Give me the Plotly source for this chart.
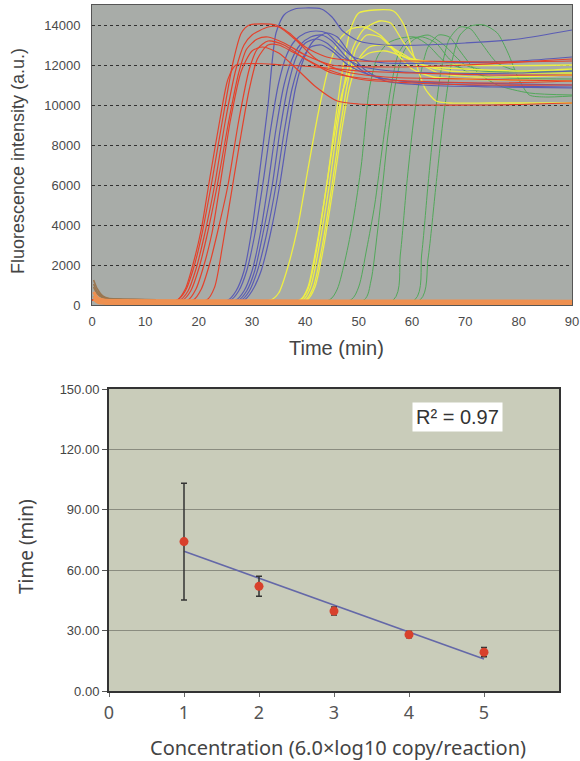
import numpy as np
import plotly.graph_objects as go

# ---------------- Top panel: amplification curves (time in min, fluorescence a.u.)
red_curves = [
    ([0, 16, 17.5, 19, 20.5, 22.5, 24.5, 26.5, 28, 29.5, 34.5, 37, 40, 44, 50, 60, 75, 90],
     [250, 250, 700, 1800, 3400, 6200, 9300, 12200, 13600, 14000, 14000, 13600, 12900, 12400, 12200, 12200, 12150, 12200]),
    ([0, 16.5, 18, 19.5, 21, 23, 25, 27, 28.5, 30, 33, 35, 38, 42, 47, 55, 70, 90],
     [250, 250, 700, 1800, 3400, 6000, 9200, 11800, 13000, 13500, 13900, 13900, 13300, 12300, 11700, 11400, 11300, 11200]),
    ([0, 17, 18.5, 20, 21.5, 23.5, 25.5, 27.5, 29, 31, 33, 36, 40, 45, 55, 70, 90],
     [250, 250, 700, 1800, 3400, 6000, 9000, 11600, 12800, 13300, 13400, 13100, 12500, 12000, 11900, 12000, 12300]),
    ([0, 16, 17.5, 19, 20.5, 22, 24, 25.5, 27, 36, 42, 50, 60, 75, 90],
     [250, 250, 800, 2100, 3800, 6200, 9300, 11300, 12000, 12000, 11900, 11700, 11600, 11500, 11500]),
    ([0, 21.5, 23, 24.5, 26.5, 28, 29.5, 31, 33, 35, 38, 43, 50, 60, 75, 90],
     [250, 250, 900, 3000, 6200, 8600, 10800, 12300, 13000, 13000, 12600, 11900, 11300, 11100, 11000, 11000]),
    ([0, 18, 19.5, 21, 22.5, 24, 26, 28, 30, 32, 35, 38, 42, 46, 50, 60, 75, 90],
     [250, 250, 800, 2000, 3600, 6000, 9300, 11700, 12700, 12900, 12600, 11900, 10900, 10200, 10050, 10000, 10000, 10100]),
    ([0, 19, 20.5, 22, 23.5, 25.5, 27.5, 29.5, 31, 33, 36, 40, 45, 52, 60, 75, 90],
     [250, 250, 800, 2000, 3600, 6000, 9200, 11800, 12800, 13200, 13000, 12300, 11600, 11300, 11200, 11100, 11200]),
]

blue_curves = [
    ([0, 25.5, 27, 28.5, 30, 31.5, 33, 34.5, 36, 38, 40, 43, 45, 47, 50, 55, 62, 70, 80, 90],
     [250, 250, 700, 1700, 3800, 6800, 10000, 13600, 14500, 14800, 14850, 14800, 14400, 13700, 13200, 13000, 13000, 13100, 13300, 13750]),
    ([0, 26, 27.5, 29, 30.5, 32, 33.5, 35, 36.5, 38, 40, 42, 44, 46, 49, 55, 65, 80, 90],
     [250, 250, 700, 1700, 3500, 6000, 8800, 11100, 12500, 13200, 13600, 13700, 13600, 13100, 12400, 12100, 12100, 12200, 12400]),
    ([0, 27, 28.5, 30, 31.5, 33, 34.5, 36, 37.5, 39, 41, 43, 45, 48, 52, 58, 70, 90],
     [250, 250, 700, 1700, 3500, 6000, 8800, 11000, 12300, 13000, 13400, 13500, 13200, 12300, 11500, 11200, 11000, 10900]),
    ([0, 27.5, 29, 30.5, 32, 33.8, 35.3, 36.8, 38.3, 40, 42, 44, 47, 51, 56, 65, 80, 90],
     [250, 250, 700, 1700, 3500, 6000, 8800, 11000, 12400, 13100, 13300, 13100, 12400, 11900, 11700, 11600, 11600, 11700]),
    ([0, 28, 29.5, 31, 32.7, 34.5, 36, 37.5, 39, 41, 43, 45, 48, 52, 58, 70, 90],
     [250, 250, 700, 1700, 3500, 6000, 8600, 10800, 12100, 12900, 13000, 12700, 12000, 11500, 11200, 11100, 11000]),
    ([0, 28.5, 30, 31.7, 33.4, 35.2, 36.7, 38.2, 39.7, 41.5, 44, 46, 48, 51, 55, 62, 75, 90],
     [250, 250, 700, 1700, 3500, 6000, 8600, 10900, 12300, 13200, 13600, 13400, 12700, 11800, 11200, 11000, 10900, 10850]),
]

yellow_curves = [
    ([0, 33.5, 35, 36.5, 38.5, 40.5, 42.5, 44.5, 46.5, 48.5, 51, 54, 57, 60, 64, 70, 80, 90],
     [250, 250, 600, 1700, 3800, 6800, 9700, 12000, 13300, 13800, 13900, 13500, 12700, 12200, 11900, 11800, 11700, 11800]),
    ([0, 39, 40.5, 42, 44, 45.5, 47, 48.5, 50, 53, 56.5, 58.5, 60.5, 62.5, 64.5, 67, 75, 90],
     [250, 250, 900, 2800, 6000, 9000, 11800, 13800, 14600, 14750, 14700, 14000, 12300, 10800, 10200, 10100, 10100, 10100]),
    ([0, 39.5, 41, 42.5, 44.5, 46, 47.5, 49, 51, 54, 56, 58, 61, 65, 72, 90],
     [250, 250, 900, 2800, 6000, 8900, 11300, 12900, 13800, 14200, 14100, 13300, 12200, 11600, 11400, 11500]),
    ([0, 40, 41.5, 43, 45, 46.5, 48, 49.5, 51.5, 54, 57, 60, 64, 70, 90],
     [250, 250, 900, 2700, 6000, 8800, 11200, 12800, 13500, 13400, 12600, 11800, 11400, 11300, 11200]),
    ([0, 40.3, 41.8, 43.3, 45.3, 46.8, 48.3, 50, 52, 55, 58, 62, 67, 75, 90],
     [250, 250, 900, 2700, 6000, 8700, 10900, 12300, 12900, 13000, 12600, 12000, 11700, 11600, 11600]),
    ([0, 39, 40.5, 42, 44, 45.5, 47, 49, 52, 55, 60, 70, 90],
     [250, 250, 800, 2600, 6000, 8600, 10700, 12000, 12600, 12700, 12300, 12000, 12000]),
]

green_curves = [
    ([0, 44.5, 46, 47.5, 49, 50.5, 52, 53.5, 55.5, 58, 60.5, 63, 66, 70, 80, 90],
     [250, 250, 800, 2300, 4300, 7000, 10800, 12400, 13100, 13350, 13400, 13000, 12200, 11800, 11600, 11600]),
    ([0, 48.5, 50, 51.5, 53, 54.5, 56, 57.5, 59.5, 62, 64.5, 67, 70, 75, 90],
     [250, 250, 900, 2800, 5000, 8000, 10800, 12600, 13300, 13400, 13100, 12300, 11700, 11400, 11300]),
    ([0, 51, 52.3, 53.5, 54.5, 55.5, 57, 58.5, 60.5, 63, 66, 70, 75, 90],
     [250, 250, 1200, 3600, 6000, 8500, 11200, 12700, 13300, 13500, 13000, 12000, 11700, 11800]),
    ([0, 56.5, 57.8, 59, 60.2, 61.5, 63, 65, 67, 69, 72, 76, 82, 90],
     [250, 250, 2500, 6000, 9000, 11400, 12900, 13500, 13400, 12700, 11700, 11000, 10600, 10500]),
    ([0, 60.5, 61.8, 63, 64.2, 65.5, 67, 69, 71, 73, 76, 80, 90],
     [250, 250, 2500, 6000, 9200, 11800, 13300, 13900, 13800, 13100, 12100, 11700, 11700]),
    ([0, 61.5, 63, 64.5, 66, 67.5, 69, 71, 73.5, 76, 78, 80, 82, 85, 90],
     [250, 250, 2300, 6000, 9600, 12200, 13500, 13950, 14000, 13600, 12600, 11300, 10500, 10400, 10450]),
]

brown_curves = [
    ([0.3, 1, 2, 3, 5, 8, 12], [1250, 800, 450, 330, 300, 280, 260]),
    ([0.3, 1, 2, 3, 5, 8, 12], [1050, 650, 400, 320, 290, 270, 250]),
    ([0.3, 1, 2, 3, 5, 8, 12], [900, 550, 370, 300, 280, 260, 250]),
]
teal_curves = [
    ([0.2, 0.8, 1.5, 2.5], [450, 180, 90, 60]),
]
orange_curves = [
    ([0.3, 1.2, 2.5, 5, 30, 60, 90], [650, 320, 240, 220, 210, 200, 190]),
    ([0.3, 1.2, 2.5, 5, 30, 60, 90], [450, 200, 150, 130, 120, 120, 120]),
    ([0.3, 1.2, 2.5, 5, 30, 60, 90], [300, 120, 80, 60, 60, 60, 60]),
]

fluor_ticks = [0, 2000, 4000, 6000, 8000, 10000, 12000, 14000]
time_ticks = [0, 10, 20, 30, 40, 50, 60, 70, 80, 90]

# ---------------- Bottom panel: time vs concentration
conc = [1, 2, 3, 4, 5]
mean_time = [74.2, 52.0, 39.7, 28.0, 19.3]
sd_time = [29.0, 5.0, 2.0, 1.5, 2.3]
r2_label = "R² = 0.97"
time_ticks_b = [0, 30, 60, 90, 120, 150]
conc_ticks = [0, 1, 2, 3, 4, 5]

fig = go.Figure()

def add_group(curves, color, width=1.2, shape="spline"):
    for t, v in curves:
        fig.add_trace(go.Scatter(x=t, y=v, mode="lines", xaxis="x", yaxis="y",
                                 line=dict(color=color, width=width, shape=shape, smoothing=0.7),
                                 hoverinfo="skip", showlegend=False))

add_group(green_curves, "#52a85a", 1.0)
add_group(yellow_curves, "#eeee44", 1.3)
add_group(blue_curves, "#5a5cb4", 1.2)
add_group(red_curves, "#e4422c", 1.2)
add_group(brown_curves, "#9a7650", 1.6)
add_group(teal_curves, "#40b0b8", 1.2)
add_group(orange_curves, "#ee9050", 3.0)

# bottom panel
slope, intercept = np.polyfit(conc, mean_time, 1)
trend_x = [conc[0], conc[-1]]
trend_y = [slope * trend_x[0] + intercept, slope * trend_x[1] + intercept]
fig.add_trace(go.Scatter(x=trend_x, y=trend_y, mode="lines", xaxis="x2", yaxis="y2",
                         line=dict(color="#6468a8", width=1.6), hoverinfo="skip", showlegend=False))
fig.add_trace(go.Scatter(x=conc, y=mean_time, mode="markers", xaxis="x2", yaxis="y2",
                         marker=dict(color="#d8412c", size=9),
                         error_y=dict(type="data", array=sd_time, color="#333333", thickness=1.5, width=3),
                         hoverinfo="skip", showlegend=False))

W, H = 580, 761
def px(x):
    return x / W
def py(y):
    return (H - y) / H

ARIAL = "Arial, Liberation Sans, sans-serif"
SOFT = "Noto Sans, Open Sans, sans-serif"

def title_ann(text, x, y, size, family, angle=0):
    return dict(text=text, xref="paper", yref="paper", x=px(x), y=py(y), xanchor="center", yanchor="middle",
                textangle=angle, showarrow=False, font=dict(size=size, color="#444444", family=family))

fig.update_layout(
    width=W, height=H, margin=dict(l=0, r=0, t=0, b=0, autoexpand=False),
    paper_bgcolor="white", plot_bgcolor="rgba(0,0,0,0)",
    font=dict(family=ARIAL, color="#444444"),
    xaxis=dict(domain=[px(92), px(572)], anchor="y", range=[0, 90], tickvals=time_ticks, automargin=False,
               showgrid=False, zeroline=False, showline=True, linecolor="#555555", linewidth=1, mirror=True,
               ticks="outside", ticklen=4, tickcolor="rgba(0,0,0,0)",
               tickfont=dict(size=13, color="#4a4a4a", family=ARIAL)),
    yaxis=dict(domain=[py(305), py(5)], anchor="x", range=[0, 15000], tickvals=fluor_ticks, tickformat="d",
               automargin=False,
               showgrid=True, gridcolor="#303030", gridwidth=1.3, griddash="dot", zeroline=False,
               showline=True, linecolor="#555555", linewidth=1, mirror=True,
               ticks="outside", ticklen=8, tickcolor="rgba(0,0,0,0)",
               tickfont=dict(size=13, color="#4a4a4a", family=ARIAL)),
    xaxis2=dict(domain=[px(109), px(559)], anchor="y2", range=[0, 6], tickvals=conc_ticks, automargin=False,
                showgrid=False, zeroline=False, showline=True, linecolor="#333333", linewidth=2, mirror=True,
                ticks="outside", ticklen=4, tickcolor="#666666",
                tickfont=dict(size=18, color="#555555", family=SOFT)),
    yaxis2=dict(domain=[py(691), py(389)], anchor="x2", range=[0, 150], tickvals=time_ticks_b, automargin=False,
                tickformat=".2f", showgrid=True, gridcolor="#8a8c80", gridwidth=1, zeroline=False,
                showline=True, linecolor="#333333", linewidth=2, mirror=True,
                ticks="outside", ticklen=5, tickcolor="#555555",
                tickfont=dict(size=13, color="#444444", family=ARIAL)),
    shapes=[
        dict(type="rect", xref="x domain", yref="y domain", x0=0, x1=1, y0=0, y1=1,
             fillcolor="#a8aca8", line=dict(width=0), layer="below"),
        dict(type="rect", xref="x2 domain", yref="y2 domain", x0=0, x1=1, y0=0, y1=1,
             fillcolor="#c9ccba", line=dict(width=0), layer="below"),
    ],
    annotations=[
        title_ann("Fluorescence intensity (a.u.)", 18, 161, 18, ARIAL, -90),
        title_ann("Time (min)", 336, 348, 20, ARIAL),
        title_ann("Time (min)", 26, 547, 19, SOFT, -90),
        title_ann("Concentration (6.0×log10 copy/reaction)", 338, 747, 20, SOFT),
        dict(text=r2_label, xref="x2", yref="y2", x=4.64, y=136.3, showarrow=False,
             bgcolor="white", borderpad=3, font=dict(size=20, color="#333333", family=ARIAL)),
    ],
)

fig.write_html("out.html", config={"displayModeBar": False},
               post_script="document.body.style.margin='0px';document.body.style.overflow='hidden';")
